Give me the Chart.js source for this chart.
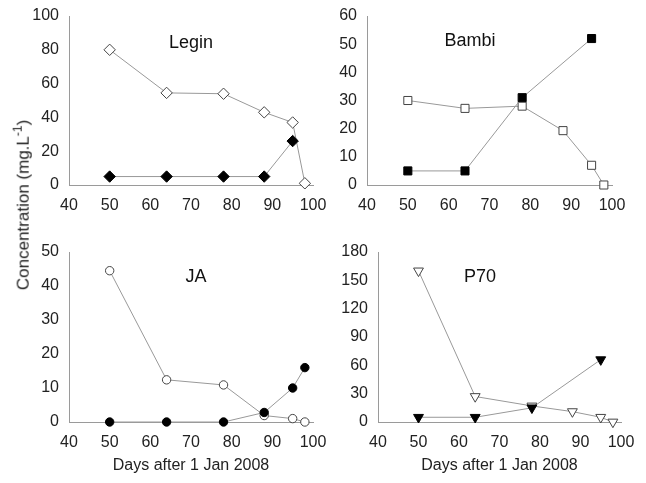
<!DOCTYPE html>
<html>
<head>
<meta charset="utf-8">
<script src="https://cdn.jsdelivr.net/npm/chart.js@4.4.1/dist/chart.umd.min.js"></script>
<style>
  body { margin: 0; background: #fff; width: 646px; height: 483px; position: relative; overflow: hidden; font-family: "Liberation Sans", Arial, sans-serif; }
  .panel { position: absolute; }
  #ytitle { position: absolute; left: 22px; top: 205px; transform: translate(-50%, -50%) rotate(-90deg); white-space: nowrap; font-size: 17px; color: #222; }
  #ytitle sup { font-size: 12px; }
</style>
</head>
<body>
<div class="panel" style="left:30px;top:0px"><canvas id="legin" width="305" height="225"></canvas></div>
<div class="panel" style="left:335px;top:0px"><canvas id="bambi" width="311" height="225"></canvas></div>
<div class="panel" style="left:30px;top:230px"><canvas id="ja" width="305" height="253"></canvas></div>
<div class="panel" style="left:335px;top:230px"><canvas id="p70" width="311" height="253"></canvas></div>
<div id="ytitle">Concentration (mg.L<sup>-1</sup>)</div>

<script>
// sampling days (days after 1 Jan 2008)
const days = [50, 64, 78, 88, 95, 98];

const leginOpen = [80, 54.5, 54, 43, 37, 1];
const leginFilledDays = [50, 64, 78, 88, 95];
const leginFilled = [5, 5, 5, 5, 26];

const bambiOpen = [30, 27.2, 28, 19.3, 7, 0];
const bambiFilledDays = [50, 64, 78, 95];
const bambiFilled = [5, 5, 31, 52];

const jaOpen = [44.5, 12.4, 10.9, 1.9, 1, 0];
const jaFilled = [0, 0, 0, 2.8, 10, 16];

const p70Open = [160, 27, 17, 11, 5, 0];
const p70FilledDays = [50, 64, 78, 95];
const p70Filled = [5, 5, 15, 66];

const xTicks = { min: 40, max: 100, step: 10 };
const xTitle = "Days after 1 Jan 2008";

const FONT = "Liberation Sans";
const AXIS = "#9a9a9a";
const LINE = "#999";

function pts(xs, ys) {
  return xs.map((x, i) => ({ x: x, y: ys[i] }));
}

// writes the panel name inside the plot area
const panelLabel = {
  id: "panelLabel",
  afterDraw(chart, args, opts) {
    const ctx = chart.ctx;
    const area = chart.chartArea;
    ctx.save();
    ctx.font = "18px '" + FONT + "'";
    ctx.fillStyle = "#111";
    ctx.textAlign = "center";
    ctx.textBaseline = "middle";
    ctx.fillText(opts.text, area.left + opts.fx * area.width, area.top + opts.dy);
    ctx.restore();
  }
};

function series(data, style, filled, rot) {
  return {
    data: data,
    showLine: true,
    borderColor: LINE,
    borderWidth: 1,
    pointStyle: style,
    pointRotation: rot || 0,
    pointRadius: style === "circle" ? 4.2 : 5.7,
    pointBackgroundColor: filled ? "#000" : "#fff",
    pointBorderColor: filled ? "#000" : "#444",
    pointBorderWidth: 1,
    clip: false
  };
}

function makePanel(id, p) {
  new Chart(document.getElementById(id), {
    type: "scatter",
    data: {
      datasets: [
        series(p.filled, p.style, true, p.rot),
        series(p.open, p.style, false, p.rot)
      ]
    },
    options: {
      responsive: false,
      animation: false,
      devicePixelRatio: 1,
      layout: { padding: { top: p.top, right: p.right, left: 0, bottom: 0 } },
      plugins: {
        legend: { display: false },
        tooltip: { enabled: false },
        panelLabel: { text: p.name, fx: p.fx, dy: p.dy }
      },
      scales: {
        x: {
          type: "linear",
          min: xTicks.min,
          max: xTicks.max,
          ticks: { stepSize: xTicks.step, padding: 11, color: "#222", font: { family: FONT, size: 16 } },
          grid: { display: false, drawTicks: false },
          border: { color: AXIS },
          title: {
            display: p.showTitle,
            text: xTitle,
            color: "#222",
            font: { family: FONT, size: 16 },
            padding: { top: 0, bottom: 8 }
          },
          // fixed axis band so the plot area lands at the same place in every panel
          afterFit(s) { s.height = p.xh; s.paddingLeft = 0; s.paddingRight = 0; }
        },
        y: {
          min: 0,
          max: p.ymax,
          ticks: { stepSize: p.ystep, padding: 10, color: "#222", font: { family: FONT, size: 16 } },
          grid: { display: false, drawTicks: false },
          border: { color: AXIS },
          afterFit(s) { s.width = p.yw; s.paddingTop = 0; s.paddingBottom = 0; }
        }
      }
    },
    plugins: [panelLabel]
  });
}

makePanel("legin", {
  name: "Legin", fx: 0.5, dy: 27,
  open: pts(days, leginOpen), filled: pts(leginFilledDays, leginFilled),
  style: "rectRot", ymax: 100, ystep: 20,
  top: 16, right: 22, yw: 39, xh: 40, showTitle: false
});

makePanel("bambi", {
  name: "Bambi", fx: 0.42, dy: 25,
  open: pts(days, bambiOpen), filled: pts(bambiFilledDays, bambiFilled),
  style: "rect", ymax: 60, ystep: 10,
  top: 16, right: 34, yw: 32, xh: 40, showTitle: false
});

makePanel("ja", {
  name: "JA", fx: 0.52, dy: 25,
  open: pts(days, jaOpen), filled: pts(days, jaFilled),
  style: "circle", ymax: 50, ystep: 10,
  top: 22, right: 22, yw: 39, xh: 61, showTitle: true
});

makePanel("p70", {
  name: "P70", fx: 0.42, dy: 25,
  open: pts(days, p70Open), filled: pts(p70FilledDays, p70Filled),
  style: "triangle", rot: 180, ymax: 180, ystep: 30,
  top: 22, right: 25, yw: 43, xh: 61, showTitle: true
});
</script>
</body>
</html>
